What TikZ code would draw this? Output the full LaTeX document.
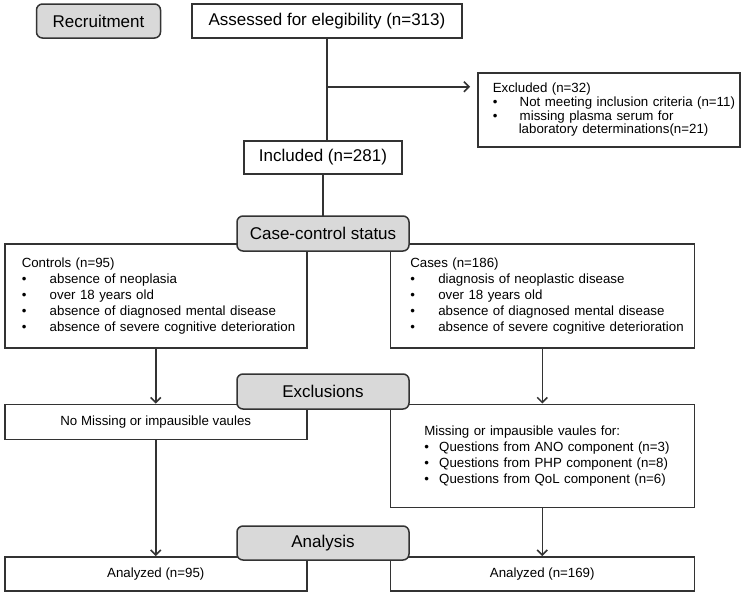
\documentclass[tikz,border=0pt]{standalone}
\usepackage{fontspec}
\setmainfont{Liberation Sans}
\usepackage{tikz}
\usetikzlibrary{positioning, arrows.meta}
\definecolor{lineColor}{HTML}{333333}
\definecolor{stageColor}{HTML}{D9D9D9}
\newcommand{\bul}[2][28pt]{\makebox[#1][l]{\textbullet}\mbox{#2}}

\begin{document}
\begin{tikzpicture}[
  x=1pt, y=-1pt,
  box/.style={
    rectangle,
    draw=lineColor,
    fill=white,
    line width=1.5pt,
    inner sep=0pt,
    font=\fontsize{13.3}{16}\selectfont
  },
  bigbox/.style={box, font=\fontsize{17}{20}\selectfont},
  stage/.style={bigbox, fill=stageColor, rounded corners=6pt},
  listbox/.style={box, anchor=north west, align=left},
  link/.style={draw=lineColor, line width=1.5pt},
  arrow/.style={
    link,
    -{Straight Barb[length=5pt, width=10pt]}
  }
]
  \useasboundingbox (0,0) rectangle (743,592);

  % Define nodes
  \node[bigbox, minimum width=270, minimum height=34] (assess) at (327,21) {Assessed for elegibility (n=313)};
  \node[listbox, minimum width=262, minimum height=74, inner xsep=15pt, text width=232pt,
    font=\fontsize{13.3}{13.7}\selectfont] (excl) at (477,72) {Excluded (n=32)
    \\\bul[27pt]{Not meeting inclusion criteria (n=11)}
    \\\bul[27pt]{missing plasma serum for}
    \\\hspace*{26pt}\mbox{laboratory determinations(n=21)}};
  \node[bigbox, minimum width=158, minimum height=33] (incl) at (323,157.5) {Included (n=281)};

  \node[listbox, minimum width=302, minimum height=104, inner xsep=17pt, text width=268pt] (ctrl) at (4,243) {Controls (n=95)
    \\\bul{absence of neoplasia}
    \\\bul{over 18 years old}
    \\\bul{absence of diagnosed mental disease}
    \\\bul{absence of severe cognitive deterioration}};
  \node[listbox, right=82pt of ctrl, minimum width=304, minimum height=104, inner xsep=20pt, text width=264pt] (cases) {Cases (n=186)
    \\\bul{diagnosis of neoplastic disease}
    \\\bul{over 18 years old}
    \\\bul{absence of diagnosed mental disease}
    \\\bul{absence of severe cognitive deterioration}};

  \node[box, below=55pt of ctrl, minimum width=302, minimum height=35] (nomiss) {No Missing or impausible vaules};
  \node[listbox, below=55pt of cases, minimum width=304, minimum height=103, inner xsep=34pt, text width=236pt] (miss) {Missing or impausible vaules for:
    \\\bul[15pt]{Questions from ANO component (n=3)}
    \\\bul[15pt]{Questions from PHP component (n=8)}
    \\\bul[15pt]{Questions from QoL component (n=6)}};

  \node[box, below=116pt of nomiss, minimum width=302, minimum height=34] (anaL) {Analyzed (n=95)};
  \node[box, below=48pt of miss, minimum width=304, minimum height=34] (anaR) {Analyzed (n=169)};

  % Connect nodes
  \coordinate (split) at ([yshift=-48pt]assess.south);
  \draw[link] (assess.south) -- (assess.south |- incl.north);
  \draw[arrow, shorten >=7pt] (split) -- (split -| excl.west);
  \draw[link] (incl.south) -- ++(0,50);
  \draw[arrow] (ctrl.south) -- (nomiss.north);
  \draw[arrow] (cases.south) -- (miss.north);
  \draw[arrow] (nomiss.south) -- (anaL.north);
  \draw[arrow] (miss.south) -- (anaR.north);

  % Stage labels on top
  \node[stage, left=30pt of assess, minimum width=124, minimum height=34] (recruit) {Recruitment};
  \node[stage, minimum width=172, minimum height=35] (status) at (323,233.5) {Case-control status};
  \node[stage, minimum width=172, minimum height=35] (exclus) at (323,391.5) {Exclusions};
  \node[stage, minimum width=172, minimum height=34] (analysis) at (323,543) {Analysis};
\end{tikzpicture}
\end{document}
